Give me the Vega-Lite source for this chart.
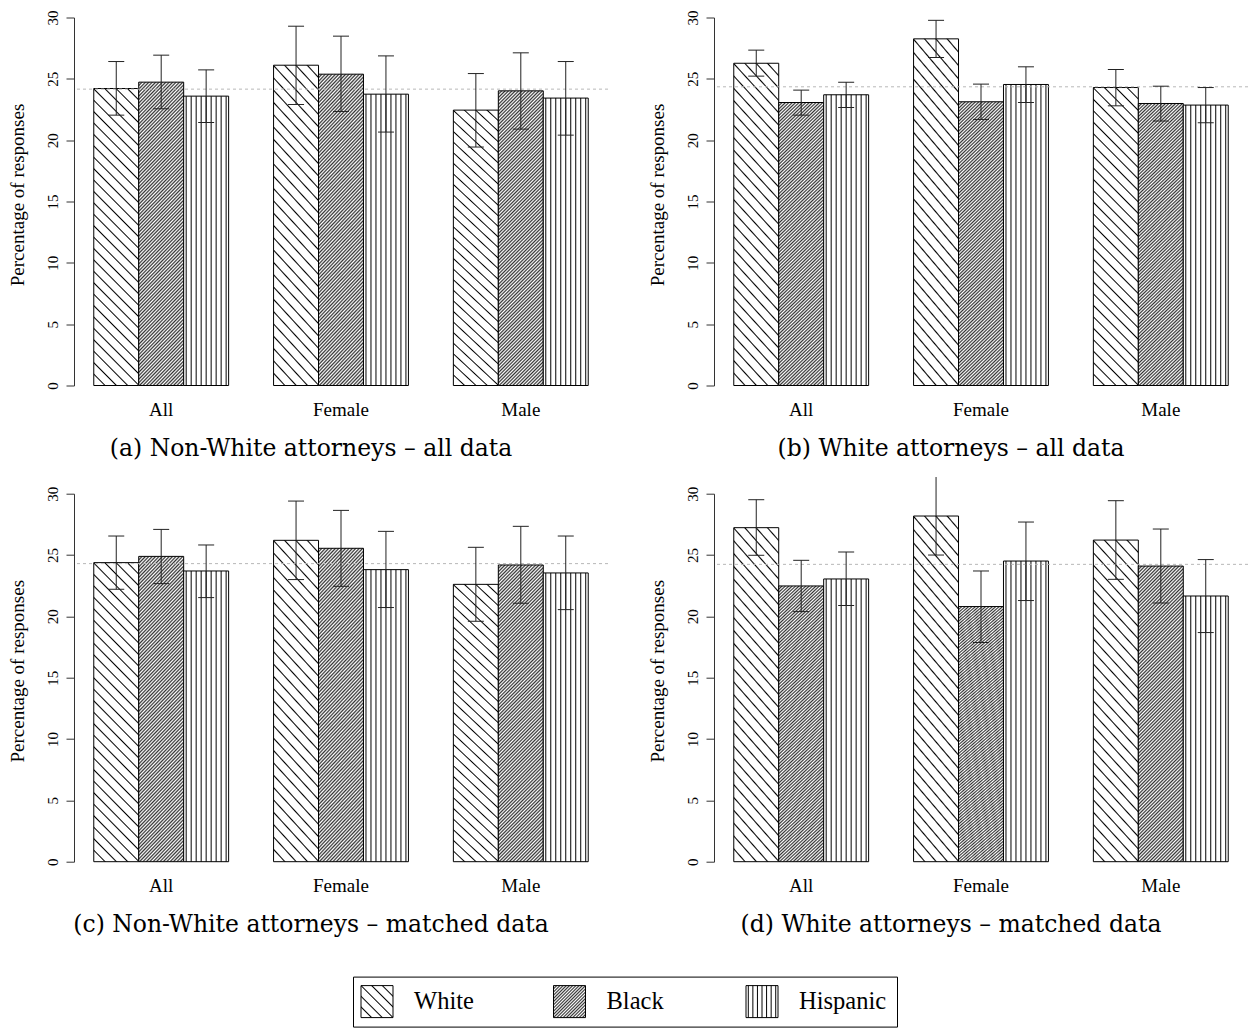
{
  "$schema": "https://vega.github.io/schema/vega-lite/v6.json",
  "padding": {"left": 8, "top": 9.5, "right": 0, "bottom": 0},
  "background": "white",
  "config": {
    "view": {"stroke": null},
    "font": "Liberation Serif",
    "axis": {"labelFont": "Liberation Serif", "titleFont": "Liberation Serif", "labelColor": "#000", "titleColor": "#000", "domainColor": "#333", "tickColor": "#333", "grid": false},
    "axisY": {"labelAngle": -90, "labelAlign": "center", "labelBaseline": "bottom", "tickSize": 8, "labelPadding": 6, "labelFontSize": 15, "titleFontSize": 19, "titleFontWeight": "normal", "titlePadding": 18, "titleY": 177},
    "axisX": {"domain": false, "ticks": false, "labelFontSize": 19, "labelPadding": 15, "labelAngle": 0},
    "title": {"font": "DejaVu Serif", "fontSize": 23.5, "fontWeight": "normal", "color": "#000", "anchor": "middle", "dx": -30},
    "style": {
      "hw": {"stroke": "#000", "strokeWidth": 1, "color": {"gradient": "linear", "x1": 0, "y1": 1, "x2": 0.1718, "y2": -0.1263, "stops": [
        {"offset":0.0291,"color":"#fff"},{"offset":0.0333,"color":"#000"},{"offset":0.0375,"color":"#fff"},
        {"offset":0.0625,"color":"#fff"},{"offset":0.0667,"color":"#000"},{"offset":0.0709,"color":"#fff"},
        {"offset":0.0958,"color":"#fff"},{"offset":0.1,"color":"#000"},{"offset":0.1042,"color":"#fff"},
        {"offset":0.1291,"color":"#fff"},{"offset":0.1333,"color":"#000"},{"offset":0.1375,"color":"#fff"},
        {"offset":0.1625,"color":"#fff"},{"offset":0.1667,"color":"#000"},{"offset":0.1709,"color":"#fff"},
        {"offset":0.1958,"color":"#fff"},{"offset":0.2,"color":"#000"},{"offset":0.2042,"color":"#fff"},
        {"offset":0.2291,"color":"#fff"},{"offset":0.2333,"color":"#000"},{"offset":0.2375,"color":"#fff"},
        {"offset":0.2625,"color":"#fff"},{"offset":0.2667,"color":"#000"},{"offset":0.2709,"color":"#fff"},
        {"offset":0.2958,"color":"#fff"},{"offset":0.3,"color":"#000"},{"offset":0.3042,"color":"#fff"},
        {"offset":0.3291,"color":"#fff"},{"offset":0.3333,"color":"#000"},{"offset":0.3375,"color":"#fff"},
        {"offset":0.3625,"color":"#fff"},{"offset":0.3667,"color":"#000"},{"offset":0.3709,"color":"#fff"},
        {"offset":0.3958,"color":"#fff"},{"offset":0.4,"color":"#000"},{"offset":0.4042,"color":"#fff"},
        {"offset":0.4291,"color":"#fff"},{"offset":0.4333,"color":"#000"},{"offset":0.4375,"color":"#fff"},
        {"offset":0.4625,"color":"#fff"},{"offset":0.4667,"color":"#000"},{"offset":0.4709,"color":"#fff"},
        {"offset":0.4958,"color":"#fff"},{"offset":0.5,"color":"#000"},{"offset":0.5042,"color":"#fff"},
        {"offset":0.5291,"color":"#fff"},{"offset":0.5333,"color":"#000"},{"offset":0.5375,"color":"#fff"},
        {"offset":0.5625,"color":"#fff"},{"offset":0.5667,"color":"#000"},{"offset":0.5709,"color":"#fff"},
        {"offset":0.5958,"color":"#fff"},{"offset":0.6,"color":"#000"},{"offset":0.6042,"color":"#fff"},
        {"offset":0.6291,"color":"#fff"},{"offset":0.6333,"color":"#000"},{"offset":0.6375,"color":"#fff"},
        {"offset":0.6625,"color":"#fff"},{"offset":0.6667,"color":"#000"},{"offset":0.6709,"color":"#fff"},
        {"offset":0.6958,"color":"#fff"},{"offset":0.7,"color":"#000"},{"offset":0.7042,"color":"#fff"},
        {"offset":0.7291,"color":"#fff"},{"offset":0.7333,"color":"#000"},{"offset":0.7375,"color":"#fff"},
        {"offset":0.7625,"color":"#fff"},{"offset":0.7667,"color":"#000"},{"offset":0.7709,"color":"#fff"},
        {"offset":0.7958,"color":"#fff"},{"offset":0.8,"color":"#000"},{"offset":0.8042,"color":"#fff"},
        {"offset":0.8291,"color":"#fff"},{"offset":0.8333,"color":"#000"},{"offset":0.8375,"color":"#fff"},
        {"offset":0.8625,"color":"#fff"},{"offset":0.8667,"color":"#000"},{"offset":0.8709,"color":"#fff"},
        {"offset":0.8958,"color":"#fff"},{"offset":0.9,"color":"#000"},{"offset":0.9042,"color":"#fff"},
        {"offset":0.9291,"color":"#fff"},{"offset":0.9333,"color":"#000"},{"offset":0.9375,"color":"#fff"},
        {"offset":0.9625,"color":"#fff"},{"offset":0.9667,"color":"#000"},{"offset":0.9709,"color":"#fff"}
      ]}},
      "hb": {"stroke": "#000", "strokeWidth": 1, "color": {"gradient": "linear", "x1": 0, "y1": 0, "x2": 0.1718, "y2": 1.1263, "stops": [
        {"offset":0,"color":"#333"},{"offset":0.005,"color":"#fff"},{"offset":0.01,"color":"#333"},{"offset":0.015,"color":"#fff"},{"offset":0.02,"color":"#333"},{"offset":0.025,"color":"#fff"},{"offset":0.03,"color":"#333"},{"offset":0.035,"color":"#fff"},{"offset":0.04,"color":"#333"},{"offset":0.045,"color":"#fff"},
        {"offset":0.05,"color":"#333"},{"offset":0.055,"color":"#fff"},{"offset":0.06,"color":"#333"},{"offset":0.065,"color":"#fff"},{"offset":0.07,"color":"#333"},{"offset":0.075,"color":"#fff"},{"offset":0.08,"color":"#333"},{"offset":0.085,"color":"#fff"},{"offset":0.09,"color":"#333"},{"offset":0.095,"color":"#fff"},
        {"offset":0.1,"color":"#333"},{"offset":0.105,"color":"#fff"},{"offset":0.11,"color":"#333"},{"offset":0.115,"color":"#fff"},{"offset":0.12,"color":"#333"},{"offset":0.125,"color":"#fff"},{"offset":0.13,"color":"#333"},{"offset":0.135,"color":"#fff"},{"offset":0.14,"color":"#333"},{"offset":0.145,"color":"#fff"},
        {"offset":0.15,"color":"#333"},{"offset":0.155,"color":"#fff"},{"offset":0.16,"color":"#333"},{"offset":0.165,"color":"#fff"},{"offset":0.17,"color":"#333"},{"offset":0.175,"color":"#fff"},{"offset":0.18,"color":"#333"},{"offset":0.185,"color":"#fff"},{"offset":0.19,"color":"#333"},{"offset":0.195,"color":"#fff"},
        {"offset":0.2,"color":"#333"},{"offset":0.205,"color":"#fff"},{"offset":0.21,"color":"#333"},{"offset":0.215,"color":"#fff"},{"offset":0.22,"color":"#333"},{"offset":0.225,"color":"#fff"},{"offset":0.23,"color":"#333"},{"offset":0.235,"color":"#fff"},{"offset":0.24,"color":"#333"},{"offset":0.245,"color":"#fff"},
        {"offset":0.25,"color":"#333"},{"offset":0.255,"color":"#fff"},{"offset":0.26,"color":"#333"},{"offset":0.265,"color":"#fff"},{"offset":0.27,"color":"#333"},{"offset":0.275,"color":"#fff"},{"offset":0.28,"color":"#333"},{"offset":0.285,"color":"#fff"},{"offset":0.29,"color":"#333"},{"offset":0.295,"color":"#fff"},
        {"offset":0.3,"color":"#333"},{"offset":0.305,"color":"#fff"},{"offset":0.31,"color":"#333"},{"offset":0.315,"color":"#fff"},{"offset":0.32,"color":"#333"},{"offset":0.325,"color":"#fff"},{"offset":0.33,"color":"#333"},{"offset":0.335,"color":"#fff"},{"offset":0.34,"color":"#333"},{"offset":0.345,"color":"#fff"},
        {"offset":0.35,"color":"#333"},{"offset":0.355,"color":"#fff"},{"offset":0.36,"color":"#333"},{"offset":0.365,"color":"#fff"},{"offset":0.37,"color":"#333"},{"offset":0.375,"color":"#fff"},{"offset":0.38,"color":"#333"},{"offset":0.385,"color":"#fff"},{"offset":0.39,"color":"#333"},{"offset":0.395,"color":"#fff"},
        {"offset":0.4,"color":"#333"},{"offset":0.405,"color":"#fff"},{"offset":0.41,"color":"#333"},{"offset":0.415,"color":"#fff"},{"offset":0.42,"color":"#333"},{"offset":0.425,"color":"#fff"},{"offset":0.43,"color":"#333"},{"offset":0.435,"color":"#fff"},{"offset":0.44,"color":"#333"},{"offset":0.445,"color":"#fff"},
        {"offset":0.45,"color":"#333"},{"offset":0.455,"color":"#fff"},{"offset":0.46,"color":"#333"},{"offset":0.465,"color":"#fff"},{"offset":0.47,"color":"#333"},{"offset":0.475,"color":"#fff"},{"offset":0.48,"color":"#333"},{"offset":0.485,"color":"#fff"},{"offset":0.49,"color":"#333"},{"offset":0.495,"color":"#fff"},
        {"offset":0.5,"color":"#333"},{"offset":0.505,"color":"#fff"},{"offset":0.51,"color":"#333"},{"offset":0.515,"color":"#fff"},{"offset":0.52,"color":"#333"},{"offset":0.525,"color":"#fff"},{"offset":0.53,"color":"#333"},{"offset":0.535,"color":"#fff"},{"offset":0.54,"color":"#333"},{"offset":0.545,"color":"#fff"},
        {"offset":0.55,"color":"#333"},{"offset":0.555,"color":"#fff"},{"offset":0.56,"color":"#333"},{"offset":0.565,"color":"#fff"},{"offset":0.57,"color":"#333"},{"offset":0.575,"color":"#fff"},{"offset":0.58,"color":"#333"},{"offset":0.585,"color":"#fff"},{"offset":0.59,"color":"#333"},{"offset":0.595,"color":"#fff"},
        {"offset":0.6,"color":"#333"},{"offset":0.605,"color":"#fff"},{"offset":0.61,"color":"#333"},{"offset":0.615,"color":"#fff"},{"offset":0.62,"color":"#333"},{"offset":0.625,"color":"#fff"},{"offset":0.63,"color":"#333"},{"offset":0.635,"color":"#fff"},{"offset":0.64,"color":"#333"},{"offset":0.645,"color":"#fff"},
        {"offset":0.65,"color":"#333"},{"offset":0.655,"color":"#fff"},{"offset":0.66,"color":"#333"},{"offset":0.665,"color":"#fff"},{"offset":0.67,"color":"#333"},{"offset":0.675,"color":"#fff"},{"offset":0.68,"color":"#333"},{"offset":0.685,"color":"#fff"},{"offset":0.69,"color":"#333"},{"offset":0.695,"color":"#fff"},
        {"offset":0.7,"color":"#333"},{"offset":0.705,"color":"#fff"},{"offset":0.71,"color":"#333"},{"offset":0.715,"color":"#fff"},{"offset":0.72,"color":"#333"},{"offset":0.725,"color":"#fff"},{"offset":0.73,"color":"#333"},{"offset":0.735,"color":"#fff"},{"offset":0.74,"color":"#333"},{"offset":0.745,"color":"#fff"},
        {"offset":0.75,"color":"#333"},{"offset":0.755,"color":"#fff"},{"offset":0.76,"color":"#333"},{"offset":0.765,"color":"#fff"},{"offset":0.77,"color":"#333"},{"offset":0.775,"color":"#fff"},{"offset":0.78,"color":"#333"},{"offset":0.785,"color":"#fff"},{"offset":0.79,"color":"#333"},{"offset":0.795,"color":"#fff"},
        {"offset":0.8,"color":"#333"},{"offset":0.805,"color":"#fff"},{"offset":0.81,"color":"#333"},{"offset":0.815,"color":"#fff"},{"offset":0.82,"color":"#333"},{"offset":0.825,"color":"#fff"},{"offset":0.83,"color":"#333"},{"offset":0.835,"color":"#fff"},{"offset":0.84,"color":"#333"},{"offset":0.845,"color":"#fff"},
        {"offset":0.85,"color":"#333"},{"offset":0.855,"color":"#fff"},{"offset":0.86,"color":"#333"},{"offset":0.865,"color":"#fff"},{"offset":0.87,"color":"#333"},{"offset":0.875,"color":"#fff"},{"offset":0.88,"color":"#333"},{"offset":0.885,"color":"#fff"},{"offset":0.89,"color":"#333"},{"offset":0.895,"color":"#fff"},
        {"offset":0.9,"color":"#333"},{"offset":0.905,"color":"#fff"},{"offset":0.91,"color":"#333"},{"offset":0.915,"color":"#fff"},{"offset":0.92,"color":"#333"},{"offset":0.925,"color":"#fff"},{"offset":0.93,"color":"#333"},{"offset":0.935,"color":"#fff"},{"offset":0.94,"color":"#333"},{"offset":0.945,"color":"#fff"},
        {"offset":0.95,"color":"#333"},{"offset":0.955,"color":"#fff"},{"offset":0.96,"color":"#333"},{"offset":0.965,"color":"#fff"},{"offset":0.97,"color":"#333"},{"offset":0.975,"color":"#fff"},{"offset":0.98,"color":"#333"},{"offset":0.985,"color":"#fff"},{"offset":0.99,"color":"#333"},{"offset":0.995,"color":"#fff"}
      ]}},
      "hh": {"stroke": "#000", "strokeWidth": 1, "color": {"gradient": "linear", "x1": 0, "y1": 0, "x2": 1, "y2": 0, "stops": [
        {"offset":0.0336,"color":"#fff"},{"offset":0.0556,"color":"#000"},{"offset":0.0776,"color":"#fff"},
        {"offset":0.1447,"color":"#fff"},{"offset":0.1667,"color":"#000"},{"offset":0.1887,"color":"#fff"},
        {"offset":0.2558,"color":"#fff"},{"offset":0.2778,"color":"#000"},{"offset":0.2998,"color":"#fff"},
        {"offset":0.3669,"color":"#fff"},{"offset":0.3889,"color":"#000"},{"offset":0.4109,"color":"#fff"},
        {"offset":0.478,"color":"#fff"},{"offset":0.5,"color":"#000"},{"offset":0.522,"color":"#fff"},
        {"offset":0.5891,"color":"#fff"},{"offset":0.6111,"color":"#000"},{"offset":0.6331,"color":"#fff"},
        {"offset":0.7002,"color":"#fff"},{"offset":0.7222,"color":"#000"},{"offset":0.7442,"color":"#fff"},
        {"offset":0.8113,"color":"#fff"},{"offset":0.8333,"color":"#000"},{"offset":0.8553,"color":"#fff"},
        {"offset":0.9224,"color":"#fff"},{"offset":0.9444,"color":"#000"},{"offset":0.9664,"color":"#fff"}
      ]}},
      "lw": {"stroke": "#000", "strokeWidth": 1, "color": {"gradient": "linear", "x1": 0, "y1": 1, "x2": 1, "y2": 0, "stops": [
        {"offset":0.1447,"color":"#fff"},{"offset":0.1667,"color":"#000"},{"offset":0.1887,"color":"#fff"},
        {"offset":0.3113,"color":"#fff"},{"offset":0.3333,"color":"#000"},{"offset":0.3553,"color":"#fff"},
        {"offset":0.478,"color":"#fff"},{"offset":0.5,"color":"#000"},{"offset":0.522,"color":"#fff"},
        {"offset":0.6447,"color":"#fff"},{"offset":0.6667,"color":"#000"},{"offset":0.6887,"color":"#fff"},
        {"offset":0.8113,"color":"#fff"},{"offset":0.8333,"color":"#000"},{"offset":0.8553,"color":"#fff"}
      ]}},
      "lb": {"stroke": "#000", "strokeWidth": 1, "color": {"gradient": "linear", "x1": 0, "y1": 0, "x2": 1, "y2": 1, "stops": [
        {"offset":0,"color":"#333"},{"offset":0.025,"color":"#fff"},{"offset":0.05,"color":"#333"},{"offset":0.075,"color":"#fff"},{"offset":0.1,"color":"#333"},{"offset":0.125,"color":"#fff"},{"offset":0.15,"color":"#333"},{"offset":0.175,"color":"#fff"},{"offset":0.2,"color":"#333"},{"offset":0.225,"color":"#fff"},
        {"offset":0.25,"color":"#333"},{"offset":0.275,"color":"#fff"},{"offset":0.3,"color":"#333"},{"offset":0.325,"color":"#fff"},{"offset":0.35,"color":"#333"},{"offset":0.375,"color":"#fff"},{"offset":0.4,"color":"#333"},{"offset":0.425,"color":"#fff"},{"offset":0.45,"color":"#333"},{"offset":0.475,"color":"#fff"},
        {"offset":0.5,"color":"#333"},{"offset":0.525,"color":"#fff"},{"offset":0.55,"color":"#333"},{"offset":0.575,"color":"#fff"},{"offset":0.6,"color":"#333"},{"offset":0.625,"color":"#fff"},{"offset":0.65,"color":"#333"},{"offset":0.675,"color":"#fff"},{"offset":0.7,"color":"#333"},{"offset":0.725,"color":"#fff"},
        {"offset":0.75,"color":"#333"},{"offset":0.775,"color":"#fff"},{"offset":0.8,"color":"#333"},{"offset":0.825,"color":"#fff"},{"offset":0.85,"color":"#333"},{"offset":0.875,"color":"#fff"},{"offset":0.9,"color":"#333"},{"offset":0.925,"color":"#fff"},{"offset":0.95,"color":"#333"},{"offset":0.975,"color":"#fff"}
      ]}},
      "lh": {"stroke": "#000", "strokeWidth": 1, "color": {"gradient": "linear", "x1": 0, "y1": 0, "x2": 1, "y2": 0, "stops": [
        {"offset":0.0404,"color":"#fff"},{"offset":0.0714,"color":"#000"},{"offset":0.1024,"color":"#fff"},
        {"offset":0.1833,"color":"#fff"},{"offset":0.2143,"color":"#000"},{"offset":0.2453,"color":"#fff"},
        {"offset":0.3261,"color":"#fff"},{"offset":0.3571,"color":"#000"},{"offset":0.3881,"color":"#fff"},
        {"offset":0.469,"color":"#fff"},{"offset":0.5,"color":"#000"},{"offset":0.531,"color":"#fff"},
        {"offset":0.6119,"color":"#fff"},{"offset":0.6429,"color":"#000"},{"offset":0.6739,"color":"#fff"},
        {"offset":0.7547,"color":"#fff"},{"offset":0.7857,"color":"#000"},{"offset":0.8167,"color":"#fff"},
        {"offset":0.8976,"color":"#fff"},{"offset":0.9286,"color":"#000"},{"offset":0.9596,"color":"#fff"}
      ]}}
    }
  },
  "datasets": {
    "bars": [
      {"panel":"a","group":"All","race":"White","value":24.21,"lo":22.04,"hi":26.41},
      {"panel":"a","group":"All","race":"Black","value":24.73,"lo":22.56,"hi":26.93},
      {"panel":"a","group":"All","race":"Hispanic","value":23.59,"lo":21.44,"hi":25.73},
      {"panel":"a","group":"Female","race":"White","value":26.11,"lo":22.91,"hi":29.29},
      {"panel":"a","group":"Female","race":"Black","value":25.38,"lo":22.34,"hi":28.48},
      {"panel":"a","group":"Female","race":"Hispanic","value":23.75,"lo":20.66,"hi":26.87},
      {"panel":"a","group":"Male","race":"White","value":22.45,"lo":19.44,"hi":25.43},
      {"panel":"a","group":"Male","race":"Black","value":24.02,"lo":20.9,"hi":27.12},
      {"panel":"a","group":"Male","race":"Hispanic","value":23.43,"lo":20.41,"hi":26.41},
      {"panel":"b","group":"All","race":"White","value":26.27,"lo":25.22,"hi":27.34},
      {"panel":"b","group":"All","race":"Black","value":23.07,"lo":22.04,"hi":24.08},
      {"panel":"b","group":"All","race":"Hispanic","value":23.7,"lo":22.66,"hi":24.73},
      {"panel":"b","group":"Female","race":"White","value":28.26,"lo":26.74,"hi":29.77},
      {"panel":"b","group":"Female","race":"Black","value":23.13,"lo":21.69,"hi":24.57},
      {"panel":"b","group":"Female","race":"Hispanic","value":24.54,"lo":23.07,"hi":25.98},
      {"panel":"b","group":"Male","race":"White","value":24.29,"lo":22.8,"hi":25.76},
      {"panel":"b","group":"Male","race":"Black","value":22.99,"lo":21.56,"hi":24.4},
      {"panel":"b","group":"Male","race":"Hispanic","value":22.86,"lo":21.42,"hi":24.29},
      {"panel":"c","group":"All","race":"White","value":24.38,"lo":22.21,"hi":26.55},
      {"panel":"c","group":"All","race":"Black","value":24.89,"lo":22.67,"hi":27.09},
      {"panel":"c","group":"All","race":"Hispanic","value":23.7,"lo":21.53,"hi":25.82},
      {"panel":"c","group":"Female","race":"White","value":26.2,"lo":23.0,"hi":29.4},
      {"panel":"c","group":"Female","race":"Black","value":25.55,"lo":22.45,"hi":28.64},
      {"panel":"c","group":"Female","race":"Hispanic","value":23.81,"lo":20.72,"hi":26.93},
      {"panel":"c","group":"Male","race":"White","value":22.61,"lo":19.6,"hi":25.63},
      {"panel":"c","group":"Male","race":"Black","value":24.19,"lo":21.07,"hi":27.34},
      {"panel":"c","group":"Male","race":"Hispanic","value":23.54,"lo":20.55,"hi":26.55},
      {"panel":"d","group":"All","race":"White","value":27.23,"lo":24.98,"hi":29.51},
      {"panel":"d","group":"All","race":"Black","value":22.48,"lo":20.39,"hi":24.57},
      {"panel":"d","group":"All","race":"Hispanic","value":23.05,"lo":20.88,"hi":25.25},
      {"panel":"d","group":"Female","race":"White","value":28.18,"lo":25.0,"hi":31.36},
      {"panel":"d","group":"Female","race":"Black","value":20.8,"lo":17.87,"hi":23.7},
      {"panel":"d","group":"Female","race":"Hispanic","value":24.51,"lo":21.29,"hi":27.69},
      {"panel":"d","group":"Male","race":"White","value":26.22,"lo":23.02,"hi":29.43},
      {"panel":"d","group":"Male","race":"Black","value":24.1,"lo":21.09,"hi":27.12},
      {"panel":"d","group":"Male","race":"Hispanic","value":21.66,"lo":18.68,"hi":24.63}
    ],
    "refs": [
      {"panel":"a","ref":24.16},
      {"panel":"b","ref":24.35},
      {"panel":"c","ref":24.3},
      {"panel":"d","ref":24.24}
    ],
    "legend": [
      {"race":"White"},
      {"race":"Black"},
      {"race":"Hispanic"}
    ]
  },
  "vconcat": [
    {
      "hconcat": [
        {
          "width": 534, "height": 368,
          "title": {"text": "(a) Non-White attorneys – all data", "orient": "bottom", "offset": 17},
          "data": {"name": "bars"},
          "transform": [{"filter": "datum.panel == 'a'"}],
          "layer": [
            {"transform": [{"filter": "datum.race == 'White'"}], "mark": {"type": "bar", "style": "hw"}, "encoding": {
              "x": {"field":"group","type":"nominal","scale":{"domain":["All","Female","Male"],"paddingInner":0.25,"paddingOuter":0.11},"axis":{"title":null}},
              "xOffset": {"field":"race","type":"nominal","scale":{"domain":["White","Black","Hispanic"],"paddingInner":0,"paddingOuter":0}},
              "y": {"field":"value","type":"quantitative","scale":{"domain":[0,30],"nice":false},"axis":{"title":"Percentage of responses","values":[0,5,10,15,20,25,30]}}}},
            {"transform": [{"filter": "datum.race == 'Black'"}], "mark": {"type": "bar", "style": "hb"}, "encoding": {
              "x": {"field":"group","type":"nominal","scale":{"domain":["All","Female","Male"],"paddingInner":0.25,"paddingOuter":0.11},"axis":{"title":null}},
              "xOffset": {"field":"race","type":"nominal","scale":{"domain":["White","Black","Hispanic"],"paddingInner":0,"paddingOuter":0}},
              "y": {"field":"value","type":"quantitative","scale":{"domain":[0,30],"nice":false},"axis":{"title":"Percentage of responses","values":[0,5,10,15,20,25,30]}}}},
            {"transform": [{"filter": "datum.race == 'Hispanic'"}], "mark": {"type": "bar", "style": "hh"}, "encoding": {
              "x": {"field":"group","type":"nominal","scale":{"domain":["All","Female","Male"],"paddingInner":0.25,"paddingOuter":0.11},"axis":{"title":null}},
              "xOffset": {"field":"race","type":"nominal","scale":{"domain":["White","Black","Hispanic"],"paddingInner":0,"paddingOuter":0}},
              "y": {"field":"value","type":"quantitative","scale":{"domain":[0,30],"nice":false},"axis":{"title":"Percentage of responses","values":[0,5,10,15,20,25,30]}}}},
            {"data": {"name": "refs"}, "transform": [{"filter": "datum.panel == 'a'"}], "mark": {"type": "rule", "color": "#b8b8b8", "strokeDash": [3, 3], "strokeWidth": 1}, "encoding": {
              "y": {"field":"ref","type":"quantitative","scale":{"domain":[0,30],"nice":false},"axis":{"title":"Percentage of responses","values":[0,5,10,15,20,25,30]}}}},
            {"mark": {"type": "rule", "color": "#222", "strokeWidth": 1}, "encoding": {
              "x": {"field":"group","type":"nominal","scale":{"domain":["All","Female","Male"],"paddingInner":0.25,"paddingOuter":0.11},"axis":{"title":null}},
              "xOffset": {"field":"race","type":"nominal","scale":{"domain":["White","Black","Hispanic"],"paddingInner":0,"paddingOuter":0}},
              "y": {"field":"lo","type":"quantitative","scale":{"domain":[0,30],"nice":false},"axis":{"title":"Percentage of responses","values":[0,5,10,15,20,25,30]}},
              "y2": {"field":"hi"}}},
            {"mark": {"type": "tick", "color": "#222", "size": 16, "thickness": 1, "opacity": 1}, "encoding": {
              "x": {"field":"group","type":"nominal","scale":{"domain":["All","Female","Male"],"paddingInner":0.25,"paddingOuter":0.11},"axis":{"title":null}},
              "xOffset": {"field":"race","type":"nominal","scale":{"domain":["White","Black","Hispanic"],"paddingInner":0,"paddingOuter":0}},
              "y": {"field":"lo","type":"quantitative","scale":{"domain":[0,30],"nice":false},"axis":{"title":"Percentage of responses","values":[0,5,10,15,20,25,30]}}}},
            {"transform": [{"filter": "datum.hi < 31"}], "mark": {"type": "tick", "color": "#222", "size": 16, "thickness": 1, "opacity": 1}, "encoding": {
              "x": {"field":"group","type":"nominal","scale":{"domain":["All","Female","Male"],"paddingInner":0.25,"paddingOuter":0.11},"axis":{"title":null}},
              "xOffset": {"field":"race","type":"nominal","scale":{"domain":["White","Black","Hispanic"],"paddingInner":0,"paddingOuter":0}},
              "y": {"field":"hi","type":"quantitative","scale":{"domain":[0,30],"nice":false},"axis":{"title":"Percentage of responses","values":[0,5,10,15,20,25,30]}}}}
          ]
        },
        {
          "width": 534, "height": 368,
          "title": {"text": "(b) White attorneys – all data", "orient": "bottom", "offset": 17},
          "data": {"name": "bars"},
          "transform": [{"filter": "datum.panel == 'b'"}],
          "layer": [
            {"transform": [{"filter": "datum.race == 'White'"}], "mark": {"type": "bar", "style": "hw"}, "encoding": {
              "x": {"field":"group","type":"nominal","scale":{"domain":["All","Female","Male"],"paddingInner":0.25,"paddingOuter":0.11},"axis":{"title":null}},
              "xOffset": {"field":"race","type":"nominal","scale":{"domain":["White","Black","Hispanic"],"paddingInner":0,"paddingOuter":0}},
              "y": {"field":"value","type":"quantitative","scale":{"domain":[0,30],"nice":false},"axis":{"title":"Percentage of responses","values":[0,5,10,15,20,25,30]}}}},
            {"transform": [{"filter": "datum.race == 'Black'"}], "mark": {"type": "bar", "style": "hb"}, "encoding": {
              "x": {"field":"group","type":"nominal","scale":{"domain":["All","Female","Male"],"paddingInner":0.25,"paddingOuter":0.11},"axis":{"title":null}},
              "xOffset": {"field":"race","type":"nominal","scale":{"domain":["White","Black","Hispanic"],"paddingInner":0,"paddingOuter":0}},
              "y": {"field":"value","type":"quantitative","scale":{"domain":[0,30],"nice":false},"axis":{"title":"Percentage of responses","values":[0,5,10,15,20,25,30]}}}},
            {"transform": [{"filter": "datum.race == 'Hispanic'"}], "mark": {"type": "bar", "style": "hh"}, "encoding": {
              "x": {"field":"group","type":"nominal","scale":{"domain":["All","Female","Male"],"paddingInner":0.25,"paddingOuter":0.11},"axis":{"title":null}},
              "xOffset": {"field":"race","type":"nominal","scale":{"domain":["White","Black","Hispanic"],"paddingInner":0,"paddingOuter":0}},
              "y": {"field":"value","type":"quantitative","scale":{"domain":[0,30],"nice":false},"axis":{"title":"Percentage of responses","values":[0,5,10,15,20,25,30]}}}},
            {"data": {"name": "refs"}, "transform": [{"filter": "datum.panel == 'b'"}], "mark": {"type": "rule", "color": "#b8b8b8", "strokeDash": [3, 3], "strokeWidth": 1}, "encoding": {
              "y": {"field":"ref","type":"quantitative","scale":{"domain":[0,30],"nice":false},"axis":{"title":"Percentage of responses","values":[0,5,10,15,20,25,30]}}}},
            {"mark": {"type": "rule", "color": "#222", "strokeWidth": 1}, "encoding": {
              "x": {"field":"group","type":"nominal","scale":{"domain":["All","Female","Male"],"paddingInner":0.25,"paddingOuter":0.11},"axis":{"title":null}},
              "xOffset": {"field":"race","type":"nominal","scale":{"domain":["White","Black","Hispanic"],"paddingInner":0,"paddingOuter":0}},
              "y": {"field":"lo","type":"quantitative","scale":{"domain":[0,30],"nice":false},"axis":{"title":"Percentage of responses","values":[0,5,10,15,20,25,30]}},
              "y2": {"field":"hi"}}},
            {"mark": {"type": "tick", "color": "#222", "size": 16, "thickness": 1, "opacity": 1}, "encoding": {
              "x": {"field":"group","type":"nominal","scale":{"domain":["All","Female","Male"],"paddingInner":0.25,"paddingOuter":0.11},"axis":{"title":null}},
              "xOffset": {"field":"race","type":"nominal","scale":{"domain":["White","Black","Hispanic"],"paddingInner":0,"paddingOuter":0}},
              "y": {"field":"lo","type":"quantitative","scale":{"domain":[0,30],"nice":false},"axis":{"title":"Percentage of responses","values":[0,5,10,15,20,25,30]}}}},
            {"transform": [{"filter": "datum.hi < 31"}], "mark": {"type": "tick", "color": "#222", "size": 16, "thickness": 1, "opacity": 1}, "encoding": {
              "x": {"field":"group","type":"nominal","scale":{"domain":["All","Female","Male"],"paddingInner":0.25,"paddingOuter":0.11},"axis":{"title":null}},
              "xOffset": {"field":"race","type":"nominal","scale":{"domain":["White","Black","Hispanic"],"paddingInner":0,"paddingOuter":0}},
              "y": {"field":"hi","type":"quantitative","scale":{"domain":[0,30],"nice":false},"axis":{"title":"Percentage of responses","values":[0,5,10,15,20,25,30]}}}}
          ]
        }
      ],
      "spacing": 106,
      "bounds": "flush"
    },
    {
      "vconcat": [
        {
          "hconcat": [
            {
              "width": 534, "height": 368,
              "title": {"text": "(c) Non-White attorneys – matched data", "orient": "bottom", "offset": 17},
              "data": {"name": "bars"},
              "transform": [{"filter": "datum.panel == 'c'"}],
              "layer": [
                {"transform": [{"filter": "datum.race == 'White'"}], "mark": {"type": "bar", "style": "hw"}, "encoding": {
                  "x": {"field":"group","type":"nominal","scale":{"domain":["All","Female","Male"],"paddingInner":0.25,"paddingOuter":0.11},"axis":{"title":null}},
                  "xOffset": {"field":"race","type":"nominal","scale":{"domain":["White","Black","Hispanic"],"paddingInner":0,"paddingOuter":0}},
                  "y": {"field":"value","type":"quantitative","scale":{"domain":[0,30],"nice":false},"axis":{"title":"Percentage of responses","values":[0,5,10,15,20,25,30]}}}},
                {"transform": [{"filter": "datum.race == 'Black'"}], "mark": {"type": "bar", "style": "hb"}, "encoding": {
                  "x": {"field":"group","type":"nominal","scale":{"domain":["All","Female","Male"],"paddingInner":0.25,"paddingOuter":0.11},"axis":{"title":null}},
                  "xOffset": {"field":"race","type":"nominal","scale":{"domain":["White","Black","Hispanic"],"paddingInner":0,"paddingOuter":0}},
                  "y": {"field":"value","type":"quantitative","scale":{"domain":[0,30],"nice":false},"axis":{"title":"Percentage of responses","values":[0,5,10,15,20,25,30]}}}},
                {"transform": [{"filter": "datum.race == 'Hispanic'"}], "mark": {"type": "bar", "style": "hh"}, "encoding": {
                  "x": {"field":"group","type":"nominal","scale":{"domain":["All","Female","Male"],"paddingInner":0.25,"paddingOuter":0.11},"axis":{"title":null}},
                  "xOffset": {"field":"race","type":"nominal","scale":{"domain":["White","Black","Hispanic"],"paddingInner":0,"paddingOuter":0}},
                  "y": {"field":"value","type":"quantitative","scale":{"domain":[0,30],"nice":false},"axis":{"title":"Percentage of responses","values":[0,5,10,15,20,25,30]}}}},
                {"data": {"name": "refs"}, "transform": [{"filter": "datum.panel == 'c'"}], "mark": {"type": "rule", "color": "#b8b8b8", "strokeDash": [3, 3], "strokeWidth": 1}, "encoding": {
                  "y": {"field":"ref","type":"quantitative","scale":{"domain":[0,30],"nice":false},"axis":{"title":"Percentage of responses","values":[0,5,10,15,20,25,30]}}}},
                {"mark": {"type": "rule", "color": "#222", "strokeWidth": 1}, "encoding": {
                  "x": {"field":"group","type":"nominal","scale":{"domain":["All","Female","Male"],"paddingInner":0.25,"paddingOuter":0.11},"axis":{"title":null}},
                  "xOffset": {"field":"race","type":"nominal","scale":{"domain":["White","Black","Hispanic"],"paddingInner":0,"paddingOuter":0}},
                  "y": {"field":"lo","type":"quantitative","scale":{"domain":[0,30],"nice":false},"axis":{"title":"Percentage of responses","values":[0,5,10,15,20,25,30]}},
                  "y2": {"field":"hi"}}},
                {"mark": {"type": "tick", "color": "#222", "size": 16, "thickness": 1, "opacity": 1}, "encoding": {
                  "x": {"field":"group","type":"nominal","scale":{"domain":["All","Female","Male"],"paddingInner":0.25,"paddingOuter":0.11},"axis":{"title":null}},
                  "xOffset": {"field":"race","type":"nominal","scale":{"domain":["White","Black","Hispanic"],"paddingInner":0,"paddingOuter":0}},
                  "y": {"field":"lo","type":"quantitative","scale":{"domain":[0,30],"nice":false},"axis":{"title":"Percentage of responses","values":[0,5,10,15,20,25,30]}}}},
                {"transform": [{"filter": "datum.hi < 31"}], "mark": {"type": "tick", "color": "#222", "size": 16, "thickness": 1, "opacity": 1}, "encoding": {
                  "x": {"field":"group","type":"nominal","scale":{"domain":["All","Female","Male"],"paddingInner":0.25,"paddingOuter":0.11},"axis":{"title":null}},
                  "xOffset": {"field":"race","type":"nominal","scale":{"domain":["White","Black","Hispanic"],"paddingInner":0,"paddingOuter":0}},
                  "y": {"field":"hi","type":"quantitative","scale":{"domain":[0,30],"nice":false},"axis":{"title":"Percentage of responses","values":[0,5,10,15,20,25,30]}}}}
              ]
            },
            {
              "width": 534, "height": 368,
              "title": {"text": "(d) White attorneys – matched data", "orient": "bottom", "offset": 17},
              "data": {"name": "bars"},
              "transform": [{"filter": "datum.panel == 'd'"}],
              "layer": [
                {"transform": [{"filter": "datum.race == 'White'"}], "mark": {"type": "bar", "style": "hw"}, "encoding": {
                  "x": {"field":"group","type":"nominal","scale":{"domain":["All","Female","Male"],"paddingInner":0.25,"paddingOuter":0.11},"axis":{"title":null}},
                  "xOffset": {"field":"race","type":"nominal","scale":{"domain":["White","Black","Hispanic"],"paddingInner":0,"paddingOuter":0}},
                  "y": {"field":"value","type":"quantitative","scale":{"domain":[0,30],"nice":false},"axis":{"title":"Percentage of responses","values":[0,5,10,15,20,25,30]}}}},
                {"transform": [{"filter": "datum.race == 'Black'"}], "mark": {"type": "bar", "style": "hb"}, "encoding": {
                  "x": {"field":"group","type":"nominal","scale":{"domain":["All","Female","Male"],"paddingInner":0.25,"paddingOuter":0.11},"axis":{"title":null}},
                  "xOffset": {"field":"race","type":"nominal","scale":{"domain":["White","Black","Hispanic"],"paddingInner":0,"paddingOuter":0}},
                  "y": {"field":"value","type":"quantitative","scale":{"domain":[0,30],"nice":false},"axis":{"title":"Percentage of responses","values":[0,5,10,15,20,25,30]}}}},
                {"transform": [{"filter": "datum.race == 'Hispanic'"}], "mark": {"type": "bar", "style": "hh"}, "encoding": {
                  "x": {"field":"group","type":"nominal","scale":{"domain":["All","Female","Male"],"paddingInner":0.25,"paddingOuter":0.11},"axis":{"title":null}},
                  "xOffset": {"field":"race","type":"nominal","scale":{"domain":["White","Black","Hispanic"],"paddingInner":0,"paddingOuter":0}},
                  "y": {"field":"value","type":"quantitative","scale":{"domain":[0,30],"nice":false},"axis":{"title":"Percentage of responses","values":[0,5,10,15,20,25,30]}}}},
                {"data": {"name": "refs"}, "transform": [{"filter": "datum.panel == 'd'"}], "mark": {"type": "rule", "color": "#b8b8b8", "strokeDash": [3, 3], "strokeWidth": 1}, "encoding": {
                  "y": {"field":"ref","type":"quantitative","scale":{"domain":[0,30],"nice":false},"axis":{"title":"Percentage of responses","values":[0,5,10,15,20,25,30]}}}},
                {"mark": {"type": "rule", "color": "#222", "strokeWidth": 1}, "encoding": {
                  "x": {"field":"group","type":"nominal","scale":{"domain":["All","Female","Male"],"paddingInner":0.25,"paddingOuter":0.11},"axis":{"title":null}},
                  "xOffset": {"field":"race","type":"nominal","scale":{"domain":["White","Black","Hispanic"],"paddingInner":0,"paddingOuter":0}},
                  "y": {"field":"lo","type":"quantitative","scale":{"domain":[0,30],"nice":false},"axis":{"title":"Percentage of responses","values":[0,5,10,15,20,25,30]}},
                  "y2": {"field":"hi"}}},
                {"mark": {"type": "tick", "color": "#222", "size": 16, "thickness": 1, "opacity": 1}, "encoding": {
                  "x": {"field":"group","type":"nominal","scale":{"domain":["All","Female","Male"],"paddingInner":0.25,"paddingOuter":0.11},"axis":{"title":null}},
                  "xOffset": {"field":"race","type":"nominal","scale":{"domain":["White","Black","Hispanic"],"paddingInner":0,"paddingOuter":0}},
                  "y": {"field":"lo","type":"quantitative","scale":{"domain":[0,30],"nice":false},"axis":{"title":"Percentage of responses","values":[0,5,10,15,20,25,30]}}}},
                {"transform": [{"filter": "datum.hi < 31"}], "mark": {"type": "tick", "color": "#222", "size": 16, "thickness": 1, "opacity": 1}, "encoding": {
                  "x": {"field":"group","type":"nominal","scale":{"domain":["All","Female","Male"],"paddingInner":0.25,"paddingOuter":0.11},"axis":{"title":null}},
                  "xOffset": {"field":"race","type":"nominal","scale":{"domain":["White","Black","Hispanic"],"paddingInner":0,"paddingOuter":0}},
                  "y": {"field":"hi","type":"quantitative","scale":{"domain":[0,30],"nice":false},"axis":{"title":"Percentage of responses","values":[0,5,10,15,20,25,30]}}}}
              ]
            }
          ],
          "spacing": 106,
          "bounds": "flush"
        },
        {
          "hconcat": [
            {
              "width": 279, "height": 50,
              "data": {"name": "legend"},
              "mark": {"type": "text"},
              "encoding": {"text": {"value": ""}}
            },
            {
              "width": 544, "height": 50,
              "view": {"stroke": "#000", "strokeWidth": 1},
              "data": {"name": "legend"},
              "encoding": {"x": {"field": "race", "type": "nominal", "scale": {"type": "point", "domain": ["White","Black","Hispanic"], "padding": 0.413, "align": 0.151}, "axis": null}},
              "layer": [
                {"transform": [{"filter": "datum.race == 'White'"}], "mark": {"type": "square", "size": 1024, "style": "lw", "opacity": 1}},
                {"transform": [{"filter": "datum.race == 'Black'"}], "mark": {"type": "square", "size": 1024, "style": "lb", "opacity": 1}},
                {"transform": [{"filter": "datum.race == 'Hispanic'"}], "mark": {"type": "square", "size": 1024, "style": "lh", "opacity": 1}},
                {"mark": {"type": "text", "align": "left", "baseline": "middle", "dx": 37, "fontSize": 24.5, "font": "Liberation Serif", "color": "#000"}, "encoding": {"text": {"field": "race"}}}
              ]
            }
          ],
          "spacing": 0,
          "bounds": "flush"
        }
      ],
      "spacing": 38.9
    }
  ],
  "spacing": 15.2
}
